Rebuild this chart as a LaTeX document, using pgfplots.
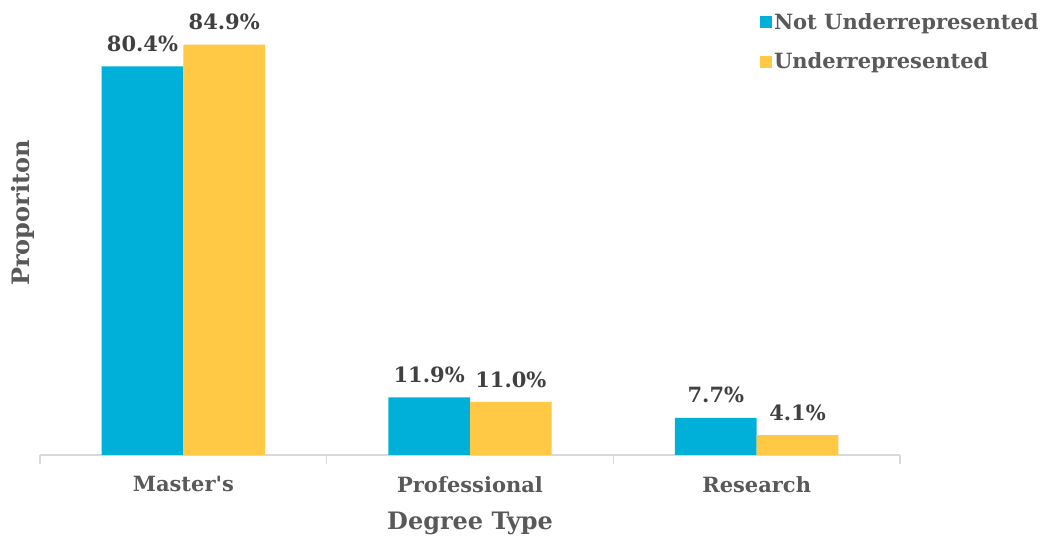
\documentclass[border=0pt]{standalone}
\usepackage{pgfplots}
\pgfplotsset{compat=1.18}
\usepackage{fontspec}
\setmainfont{DejaVu Serif}
\definecolor{blueb}{HTML}{00B0D8}
\definecolor{yellowb}{HTML}{FFC845}
\definecolor{txt}{HTML}{595959}
\definecolor{lbl}{HTML}{404040}
\definecolor{axgray}{HTML}{D9D9D9}
\begin{document}
\begin{tikzpicture}[x=1pt,y=1pt]
\useasboundingbox (0,0) rectangle (1059,537);
\begin{axis}[
    at={(40pt,82pt)}, anchor=south west,
    scale only axis,
    width=860pt, height=435pt,
    ybar=0pt,
    bar width=0.285,
    xmin=-0.5, xmax=2.5,
    ymin=0, ymax=90,
    xtick={0,1,2},
    xticklabels={Master\textquotesingle s,Professional,Research},
    major tick length=0pt,
    extra x ticks={-0.5,0.5,1.5,2.5},
    extra x tick labels={},
    extra x tick style={major tick length=9pt, tick align=outside, tick style={axgray, line width=1.2pt}},
    axis x line=bottom,
    axis y line=none,
    x axis line style={axgray, line width=1.5pt, -},
    /pgf/number format/assume math mode=true,
    ticklabel style={font=\fontsize{21}{24}\selectfont\bfseries, text=txt},
    xticklabel style={yshift=-18pt},
    xlabel={Degree Type},
    xlabel style={font=\fontsize{24}{28}\selectfont\bfseries, text=txt, yshift=-3pt},
    clip=false,
    nodes near coords={\pgfmathprintnumber[fixed,fixed zerofill,precision=1]{\pgfplotspointmeta}\%},
    nodes near coords style={font=\fontsize{21}{24}\selectfont\bfseries, text=lbl, yshift=11pt},
    legend style={at={(axis description cs:0.837,1.02)}, anchor=north west, draw=none, fill=none,
        font=\fontsize{21}{24}\selectfont\bfseries, text=txt, row sep=18pt,
        inner sep=0pt, /tikz/every even column/.append style={column sep=4pt}},
    legend cell align=left,
    legend image code/.code={\fill[#1] (0pt,-6pt) rectangle (12pt,6pt);},
]
\addplot[fill=blueb, draw=none] coordinates {(0,80.4) (1,11.9) (2,7.7)};
\addplot[fill=yellowb, draw=none] coordinates {(0,84.9) (1,11.0) (2,4.1)};
\legend{Not Underrepresented, Underrepresented}
\end{axis}
\node[rotate=90, font=\fontsize{24}{28}\selectfont\bfseries, text=txt] at (23,324) {Proporiton};
\end{tikzpicture}
\end{document}
